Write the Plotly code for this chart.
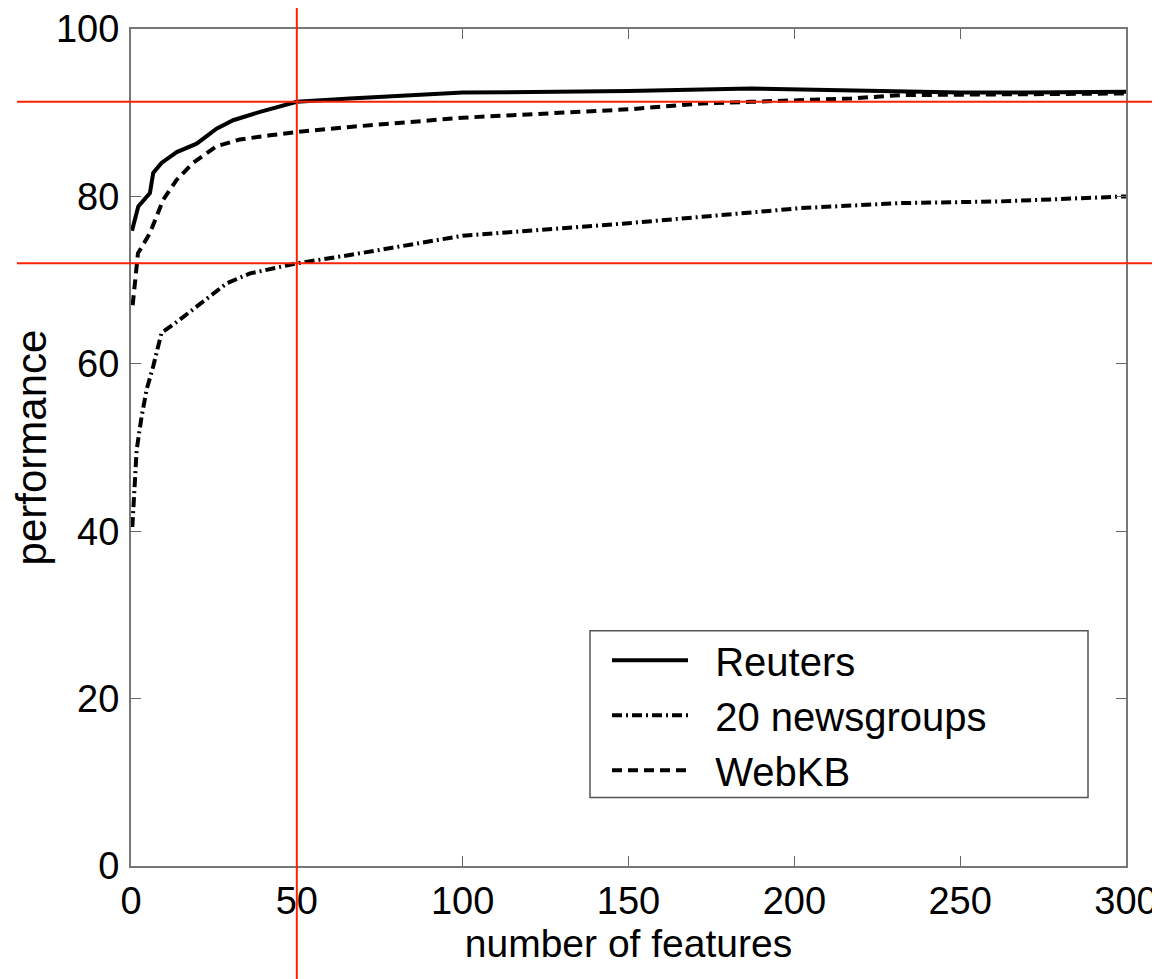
import plotly.graph_objects as go

# ---- data ----
series_names = ["Reuters", "20 newsgroups", "WebKB"]

reuters_x = [0.3, 2.2, 5.7, 6.7, 9.2, 13.8, 19.8, 25.8, 30.8, 38.9, 50, 66, 100, 150, 187, 217, 250, 270, 300]
reuters_y = [75.9, 78.8, 80.4, 82.8, 84.0, 85.3, 86.3, 88.1, 89.1, 90.1, 91.3, 91.7, 92.4, 92.6, 92.9, 92.7, 92.4, 92.4, 92.5]

news_x = [0.4, 1.2, 1.7, 3.2, 4.7, 6.7, 9.2, 14.8, 20.8, 28.8, 35.9, 50, 66, 100, 150, 172, 202, 232, 262, 300]
news_y = [40.5, 45.8, 49.7, 53.7, 56.9, 59.7, 63.7, 65.3, 67.2, 69.6, 70.8, 72.0, 73.0, 75.3, 76.8, 77.6, 78.6, 79.2, 79.4, 80.0]

webkb_x = [0.5, 2.1, 5.7, 9.7, 13.8, 18.7, 25.8, 32.8, 41.9, 50, 66, 100, 150, 172, 187, 217, 232, 260, 300]
webkb_y = [67.0, 73.2, 75.6, 79.6, 82.0, 84.0, 86.0, 86.8, 87.3, 87.7, 88.3, 89.4, 90.4, 91.1, 91.3, 91.7, 92.1, 92.2, 92.3]

x_ticks = [0, 50, 100, 150, 200, 250, 300]
y_ticks = [0, 20, 40, 60, 80, 100]
mark_x = 50
mark_levels = [91.3, 72.0]

# ---- layout geometry (page pixels; the page body adds an 8px offset) ----
OFF = 8
PW, PH = 1160, 979
W, H = PW - OFF, PH - OFF
plot_l, plot_r, plot_t, plot_b = 131, 1126, 29, 866.5
L = plot_l - OFF
T = plot_t - OFF
R = W - (plot_r - OFF)
B = H - (plot_b - OFF)
pw, ph = plot_r - plot_l, plot_b - plot_t

def px(xp):
    return (xp - plot_l) / pw

def py(yp):
    return (plot_b - yp) / ph

pad = "&nbsp;&nbsp;"
fig = go.Figure()
fig.add_trace(go.Scatter(x=reuters_x, y=reuters_y, mode="lines", name=pad + series_names[0],
                         line=dict(color="black", width=4, dash="solid")))
fig.add_trace(go.Scatter(x=news_x, y=news_y, mode="lines", name=pad + series_names[1],
                         line=dict(color="black", width=4, dash="10px,4px,2px,4px")))
fig.add_trace(go.Scatter(x=webkb_x, y=webkb_y, mode="lines", name=pad + series_names[2],
                         line=dict(color="black", width=4, dash="10px,6px")))

fam = "Liberation Sans, Arial, sans-serif"
tick_font = dict(family=fam, size=38, color="black")

fig.update_layout(
    width=W, height=H,
    margin=dict(l=L, r=R, t=T, b=B, pad=0, autoexpand=False),
    paper_bgcolor="white", plot_bgcolor="white",
    showlegend=True,
    legend=dict(x=px(607), y=py(628), xanchor="left", yanchor="top",
                borderwidth=0, bgcolor="rgba(0,0,0,0)",
                font=dict(family=fam, size=40, color="black"),
                itemwidth=76, tracegroupgap=0),
    xaxis=dict(range=[0, 300], tickvals=x_ticks, ticks="inside", ticklen=10,
               tickcolor="#666666", showline=True, linecolor="#777777", linewidth=2,
               mirror="ticks", showgrid=False, zeroline=False, tickfont=tick_font,
               ticklabelstandoff=0, automargin=False,
               title=dict(text="number of features", font=dict(family=fam, size=39, color="black"),
                          standoff=0)),
    yaxis=dict(range=[0, 100], tickvals=y_ticks, ticks="inside", ticklen=10,
               tickcolor="#666666", showline=True, linecolor="#777777", linewidth=2,
               mirror="ticks", showgrid=False, zeroline=False, tickfont=tick_font,
               ticklabelstandoff=2, automargin=False,
               title=dict(text="performance", font=dict(family=fam, size=42, color="black"),
                          standoff=8)),
)

red = "#ff2200"
shapes = [
    dict(type="rect", xref="paper", yref="paper", x0=px(590), x1=px(1088),
         y0=py(798), y1=py(631), line=dict(color="#555555", width=1.5),
         fillcolor="white", layer="above"),
    dict(type="line", xref="x", yref="paper", x0=mark_x, x1=mark_x,
         y0=py(PH + 5), y1=py(6), line=dict(color=red, width=2)),
    dict(type="line", xref="paper", yref="y", x0=px(17), x1=px(PW + 5),
         y0=mark_levels[0], y1=mark_levels[0], line=dict(color=red, width=2)),
    dict(type="line", xref="paper", yref="y", x0=px(17), x1=px(1155),
         y0=mark_levels[1], y1=mark_levels[1], line=dict(color=red, width=2)),
    dict(type="circle", xref="paper", yref="paper", x0=px(-30), x1=px(14),
         y0=py(14), y1=py(-30), line=dict(color="#7799ee", width=1.5)),
]
fig.update_layout(shapes=shapes)

fig.write_html("out.html")
